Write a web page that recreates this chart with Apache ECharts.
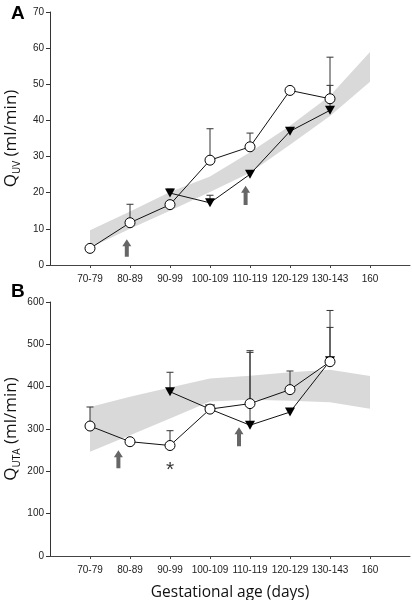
<!DOCTYPE html>
<html>
<head>
<meta charset="utf-8">
<script src="https://cdn.jsdelivr.net/npm/echarts@6/dist/echarts.min.js"></script>
<style>html,body{margin:0;padding:0;background:#fff}#c{width:412px;height:600px}</style>
</head>
<body>
<div id="c"></div>
<script>
// ---- data ----
const categories = ['70-79','80-89','90-99','100-109','110-119','120-129','130-143','160'];
const catPos = [1,2,3,4,5,6,7,8];

// Panel A: Q_UV (ml/min)
const uvOpen     = [4.6, 11.7, 16.7, 29.0, 32.7, 48.3, 46.0];
const uvOpenErr  = [null, 16.8, null, 37.7, 36.5, null, 57.5];
const uvTri      = [null, null, 19.9, 17.2, 25.1, 37.0, 42.8];
const uvTriErr   = [null, null, 21.0, 19.3, null, null, 49.7];
const uvBandLow  = [4.8, 10.0, 15.0, 20.2, 25.5, 33.3, 41.2, 50.7];
const uvBandHigh = [9.6, 14.8, 20.2, 24.5, 31.2, 38.5, 46.8, 58.9];
const uvArrows   = [[1.92, 2.3, 7.1], [4.89, 16.6, 21.9]];

// Panel B: Q_UTA (ml/min)
const utaOpen     = [307, 270, 261, 347, 360, 393, 459];
const utaOpenErr  = [352, null, 296, null, 485, 437, 580];
const utaTri      = [null, null, 388, 347, 309, 340, 461];
const utaTriErr   = [null, null, 434, null, 481, null, 540];
const utaBandLow  = [246, 285, 325, 365, 369, 367, 363, 348];
const utaBandHigh = [352, 376, 398, 419, 426, 434, 440, 425];
const utaArrows   = [[1.71, 207, 250], [4.725, 259, 304]];
const utaStar     = [[3, 203]];

const yTicksA = {min: 0, max: 70, interval: 10};
const yTicksB = {min: 0, max: 600, interval: 100};

// ---- helpers ----
function pts(vals){ const r=[]; vals.forEach((v,i)=>{ if(v!=null) r.push([catPos[i], v]); }); return r; }
function errPts(vals, errs){ const r=[]; vals.forEach((v,i)=>{ if(v!=null && errs[i]!=null) r.push([catPos[i], v, errs[i]]); }); return r; }
function bandPts(lo, hi){ return lo.map((v,i)=>[catPos[i], v, hi[i]]); }

const INK = '#111';
function errRender(params, api){
  const x=api.value(0), y=api.value(1), t=api.value(2);
  const p0=api.coord([x,y]), p1=api.coord([x,t]);
  return {type:'group', children:[
    {type:'line', shape:{x1:p0[0],y1:p0[1],x2:p1[0],y2:p1[1]}, style:{stroke:'#333',lineWidth:1}},
    {type:'line', shape:{x1:p1[0]-3.5,y1:p1[1],x2:p1[0]+3.5,y2:p1[1]}, style:{stroke:'#333',lineWidth:1}}
  ]};
}
function arrowRender(params, api){
  const x=api.value(0), yb=api.value(1), yt=api.value(2);
  const b=api.coord([x,yb]), t=api.coord([x,yt]);
  const cx=b[0], hl=7, hw=4.5, sw=2;
  return {type:'polygon', shape:{points:[
    [cx-sw,b[1]],[cx-sw,t[1]+hl],[cx-hw,t[1]+hl],[cx,t[1]],[cx+hw,t[1]+hl],[cx+sw,t[1]+hl],[cx+sw,b[1]]
  ]}, style:{fill:'#666'}};
}
function bandRender(lo, hi){
  return function(params, api){
    if(params.dataIndex!==0) return null;
    const top=[], bot=[];
    for(let i=0;i<lo.length;i++){
      top.push(api.coord([catPos[i], hi[i]]));
      bot.push(api.coord([catPos[i], lo[i]]));
    }
    return {type:'polygon', shape:{points: top.concat(bot.reverse())}, style:{fill:'#d9d9d9'}};
  };
}

const labelFont = {fontFamily:'Liberation Sans, Arial, sans-serif', fontSize:10, color:'#222'};

function xAxis(gi, name){
  return {
    type:'value', gridIndex:gi, min:0, max:9,
    axisLine:{lineStyle:{color:'#444', width:1}},
    axisTick:{show:true, length:3, customValues:catPos, lineStyle:{color:'#444'}},
    axisLabel:Object.assign({customValues:catPos, margin:9, formatter:v=>categories[Math.round(v)-1]||''}, labelFont),
    splitLine:{show:false},
    name:name||'', nameLocation:'middle', nameGap:29,
    nameTextStyle:{fontFamily:'Open Sans, sans-serif', fontSize:15.5, color:'#111'}
  };
}
function yAxis(gi, t, sub, gap){
  return {
    type:'value', gridIndex:gi, min:t.min, max:t.max, interval:t.interval,
    axisLine:{show:true, lineStyle:{color:'#333', width:1}},
    axisTick:{show:true, length:4, lineStyle:{color:'#333'}},
    axisLabel:Object.assign({margin:6}, labelFont),
    splitLine:{show:false},
    name:'{q|Q}{s|'+sub+'}{q| (ml/min)}', nameLocation:'middle', nameGap:gap, nameRotate:90,
    nameMoveOverlap:false,
    nameTextStyle:{rich:{
      q:{fontFamily:'Open Sans, sans-serif', fontSize:17, color:'#111', lineHeight:22},
      s:{fontFamily:'Open Sans, sans-serif', fontSize:10, color:'#111', lineHeight:22, verticalAlign:'bottom', padding:[7,0,0,0]}
    }}
  };
}

function panelSeries(gi, open, openErr, tri, triErr, lo, hi, arrows){
  return [
    {type:'custom', xAxisIndex:gi, yAxisIndex:gi, z:1, silent:true, renderItem:bandRender(lo,hi), data:bandPts(lo,hi)},
    {type:'custom', xAxisIndex:gi, yAxisIndex:gi, z:2, silent:true, renderItem:arrowRender, data:arrows},
    {type:'custom', xAxisIndex:gi, yAxisIndex:gi, z:3, silent:true, renderItem:errRender, data:errPts(open, openErr)},
    {type:'custom', xAxisIndex:gi, yAxisIndex:gi, z:3, silent:true, renderItem:errRender, data:errPts(tri, triErr)},
    {type:'line', xAxisIndex:gi, yAxisIndex:gi, z:4, data:pts(tri), symbol:'triangle', symbolRotate:180, symbolSize:[10,9],
      lineStyle:{color:INK, width:1}, itemStyle:{color:'#000'}, animation:false},
    {type:'line', xAxisIndex:gi, yAxisIndex:gi, z:5, data:pts(open), symbol:'circle', symbolSize:10,
      lineStyle:{color:INK, width:1}, itemStyle:{color:'#fff', borderColor:'#000', borderWidth:1}, animation:false}
  ];
}

const chart = echarts.init(document.getElementById('c'), null, {renderer:'canvas'});
chart.setOption({
  animation:false,
  backgroundColor:'#fff',
  grid:[
    {left:50, top:12, width:360, height:253, containLabel:false, outerBoundsMode:'none'},
    {left:50, top:302, width:360, height:254, containLabel:false, outerBoundsMode:'none'}
  ],
  xAxis:[xAxis(0), xAxis(1, 'Gestational age (days)')],
  yAxis:[yAxis(0, yTicksA, 'UV', 28), yAxis(1, yTicksB, 'UTA', 28)],
  graphic:[
    {type:'text', left:11, top:4, style:{text:'A', font:'bold 19px Liberation Sans, Arial, sans-serif', fill:'#000'}},
    {type:'text', left:11, top:282, style:{text:'B', font:'bold 19px Liberation Sans, Arial, sans-serif', fill:'#000'}}
  ],
  series: panelSeries(0, uvOpen, uvOpenErr, uvTri, uvTriErr, uvBandLow, uvBandHigh, uvArrows)
    .concat(panelSeries(1, utaOpen, utaOpenErr, utaTri, utaTriErr, utaBandLow, utaBandHigh, utaArrows))
    .concat([{type:'scatter', xAxisIndex:1, yAxisIndex:1, data:utaStar, symbolSize:0, silent:true,
      label:{show:true, position:'inside', formatter:'*', fontSize:21, fontFamily:'Liberation Sans, Arial, sans-serif', color:'#000', padding:[8,0,0,0]}}])
});
</script>
</body>
</html>
